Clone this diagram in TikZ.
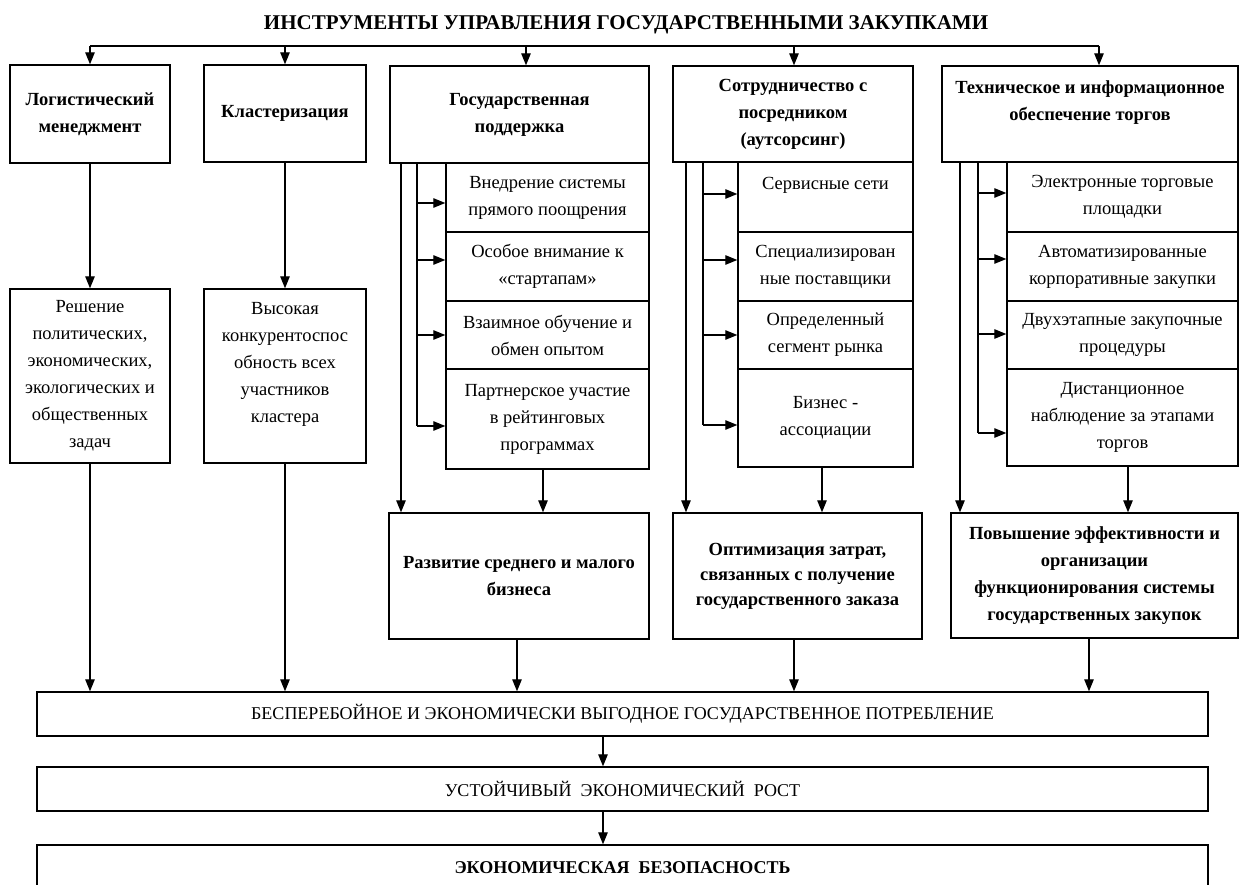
\documentclass[tikz,border=0pt]{standalone}
\usepackage{fontspec}
\setmainfont{Liberation Serif}
\usetikzlibrary{arrows.meta}
\begin{document}
\begin{tikzpicture}[x=1pt,y=-1pt,
  bx/.style={draw,line width=1.4pt,inner sep=0pt,align=center,fill=white,font=\fontsize{18.5}{27}\selectfont},
  bxb/.style={bx,font=\fontsize{18.5}{27}\selectfont\bfseries},
  bxl/.style={bx,font=\fontsize{18}{22}\selectfont},
  ln/.style={line width=1.2pt},
  arr/.style={ln,-{Triangle[length=12pt,width=9.5pt]}}]
\useasboundingbox (0,0) rectangle (1240,885);
\fill[white] (0,0) rectangle (1240,885);
\node[font=\fontsize{21}{25}\selectfont\bfseries,inner sep=0pt] (title) at (626,25) {ИНСТРУМЕНТЫ УПРАВЛЕНИЯ ГОСУДАРСТВЕННЫМИ ЗАКУПКАМИ};

% header boxes
\node[bxb,minimum width=160pt,minimum height=98pt] (h1) at (90,114) {Логистический\\менеджмент};
\node[bxb,minimum width=162pt,minimum height=97pt] (h2) at (285,113.5) {Кластеризация};
\node[bxb,minimum width=259pt,minimum height=97pt] (h3) at (519.5,114.5) {Государственная\\поддержка};
\node[bxb,minimum width=240pt,minimum height=96pt] (h4) at (793,114) {Сотрудничество с\\посредником\\(аутсорсинг)};
\node[bxb,minimum width=296pt,minimum height=96pt] (h5) at (1090,114) {Техническое и информационное\\обеспечение торгов\\\mbox{}};

% result boxes col 1-2
\node[bx,minimum width=160pt,minimum height=174pt] (r1) at (90,376) {Решение\\политических,\\экономических,\\экологических и\\общественных\\задач};
\node[bx,minimum width=162pt,minimum height=174pt] (r2) at (285,376) {Высокая\\конкурентоспос\\обность всех\\участников\\кластера\\\mbox{}};

% sub boxes col 3
\node[bx,minimum width=203pt,minimum height=69pt] (s3a) at (547.5,197.5) {Внедрение системы\\прямого поощрения};
\node[bx,minimum width=203pt,minimum height=69pt] (s3b) at (547.5,266.5) {Особое внимание к\\«стартапам»};
\node[bx,minimum width=203pt,minimum height=68pt] (s3c) at (547.5,335) {Взаимное обучение и\\обмен опытом};
\node[bx,minimum width=203pt,minimum height=100pt] (s3d) at (547.5,419) {Партнерское участие\\в рейтинговых\\программах};

% sub boxes col 4
\node[bx,minimum width=175pt,minimum height=70pt] (s4a) at (825.5,197) {Сервисные сети\\\mbox{}};
\node[bx,minimum width=175pt,minimum height=69pt] (s4b) at (825.5,266.5) {Специализирован\\ные поставщики};
\node[bx,minimum width=175pt,minimum height=68pt] (s4c) at (825.5,335) {Определенный\\сегмент рынка};
\node[bx,minimum width=175pt,minimum height=98pt] (s4d) at (825.5,418) {Бизнес -\\ассоциации};

% sub boxes col 5
\node[bx,minimum width=231pt,minimum height=70pt] (s5a) at (1122.5,197) {Электронные торговые\\площадки};
\node[bx,minimum width=231pt,minimum height=69pt] (s5b) at (1122.5,266.5) {Автоматизированные\\корпоративные закупки};
\node[bx,minimum width=231pt,minimum height=68pt] (s5c) at (1122.5,335) {Двухэтапные закупочные\\процедуры};
\node[bx,minimum width=231pt,minimum height=97pt] (s5d) at (1122.5,417.5) {Дистанционное\\наблюдение за этапами\\торгов};

% goal boxes
\node[bxb,minimum width=260pt,minimum height=126pt] (g3) at (519,576) {Развитие среднего и малого\\бизнеса};
\node[bxb,minimum width=249pt,minimum height=126pt,font=\fontsize{18.5}{25}\selectfont\bfseries] (g4) at (797.5,576) {Оптимизация затрат,\\связанных с получение\\государственного заказа};
\node[bxb,minimum width=287pt,minimum height=125pt] (g5) at (1094.5,575.5) {Повышение эффективности и\\организации\\функционирования системы\\государственных закупок};

% bottom boxes
\node[bxl,minimum width=1171pt,minimum height=44pt] (b1) at (622.5,714) {БЕСПЕРЕБОЙНОЕ И ЭКОНОМИЧЕСКИ ВЫГОДНОЕ ГОСУДАРСТВЕННОЕ ПОТРЕБЛЕНИЕ};
\node[bxl,minimum width=1171pt,minimum height=44pt] (b2) at (622.5,789) {УСТОЙЧИВЫЙ\ \ ЭКОНОМИЧЕСКИЙ\ \ РОСТ};
\node[bxl,minimum width=1171pt,minimum height=46pt,font=\fontsize{18}{22}\selectfont\bfseries] (b3) at (622.5,868) {ЭКОНОМИЧЕСКАЯ\ \ БЕЗОПАСНОСТЬ};

% top distribution
\coordinate (t1) at (90,46);
\coordinate (t2) at (285,46);
\coordinate (t3) at (526,46);
\coordinate (t4) at (794,46);
\coordinate (t5) at (1099,46);
\draw[ln] (t1) -- (t5);
\foreach \i in {1,...,5}{\draw[arr] (t\i) -- (t\i |- h\i.north);}

% col 1-2
\draw[arr] (h1.south) -- (r1.north);
\draw[arr] (h2.south) -- (r2.north);
\draw[arr] (r1.south) -- (r1.south |- b1.north);
\draw[arr] (r2.south) -- (r2.south |- b1.north);

% col 3
\coordinate (o3) at (401,0);
\coordinate (i3a) at (417,203);
\coordinate (i3b) at (417,260);
\coordinate (i3c) at (417,335);
\coordinate (i3d) at (417,426);
\draw[arr] (o3 |- h3.south) -- (o3 |- g3.north);
\draw[ln] (i3a |- h3.south) -- (i3d);
\draw[arr] (i3a) -- (i3a -| s3a.west);
\draw[arr] (i3b) -- (i3b -| s3b.west);
\draw[arr] (i3c) -- (i3c -| s3c.west);
\draw[arr] (i3d) -- (i3d -| s3d.west);
\coordinate (c3) at (543,0);
\draw[arr] (c3 |- s3d.south) -- (c3 |- g3.north);
\coordinate (d3) at (517,0);
\draw[arr] (d3 |- g3.south) -- (d3 |- b1.north);

% col 4
\coordinate (o4) at (686,0);
\coordinate (i4a) at (703,194);
\coordinate (i4b) at (703,260);
\coordinate (i4c) at (703,335);
\coordinate (i4d) at (703,425);
\draw[arr] (o4 |- h4.south) -- (o4 |- g4.north);
\draw[ln] (i4a |- h4.south) -- (i4d);
\draw[arr] (i4a) -- (i4a -| s4a.west);
\draw[arr] (i4b) -- (i4b -| s4b.west);
\draw[arr] (i4c) -- (i4c -| s4c.west);
\draw[arr] (i4d) -- (i4d -| s4d.west);
\coordinate (c4) at (822,0);
\draw[arr] (c4 |- s4d.south) -- (c4 |- g4.north);
\coordinate (d4) at (794,0);
\draw[arr] (d4 |- g4.south) -- (d4 |- b1.north);

% col 5
\coordinate (o5) at (960,0);
\coordinate (i5a) at (978,193);
\coordinate (i5b) at (978,259);
\coordinate (i5c) at (978,334);
\coordinate (i5d) at (978,433);
\draw[arr] (o5 |- h5.south) -- (o5 |- g5.north);
\draw[ln] (i5a |- h5.south) -- (i5d);
\draw[arr] (i5a) -- (i5a -| s5a.west);
\draw[arr] (i5b) -- (i5b -| s5b.west);
\draw[arr] (i5c) -- (i5c -| s5c.west);
\draw[arr] (i5d) -- (i5d -| s5d.west);
\coordinate (c5) at (1128,0);
\draw[arr] (c5 |- s5d.south) -- (c5 |- g5.north);
\coordinate (d5) at (1089,0);
\draw[arr] (d5 |- g5.south) -- (d5 |- b1.north);

% bottom chain
\coordinate (m) at (603,0);
\draw[arr] (m |- b1.south) -- (m |- b2.north);
\draw[arr] (m |- b2.south) -- (m |- b3.north);
\end{tikzpicture}
\end{document}
